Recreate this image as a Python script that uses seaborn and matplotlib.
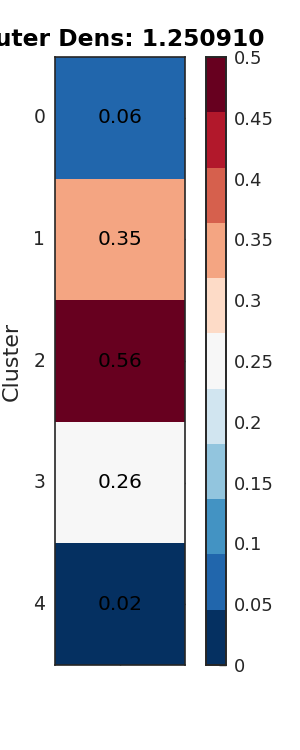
import matplotlib
matplotlib.use("Agg")
import matplotlib.pyplot as plt
import seaborn as sns
import numpy as np
import pandas as pd

clusters = [0, 1, 2, 3, 4]
densities = [0.06, 0.35, 0.56, 0.26, 0.02]
title = "Outer Dens: 1.250910"
cbar_ticks = [0, 0.05, 0.1, 0.15, 0.2, 0.25, 0.3, 0.35, 0.4, 0.45, 0.5]
cbar_labels = ["0", "0.05", "0.1", "0.15", "0.2", "0.25", "0.3", "0.35", "0.4", "0.45", "0.5"]

sns.set_style("ticks", {"xtick.direction": "in", "ytick.direction": "in"})
plt.rcParams["font.family"] = ["DejaVu Sans"]

df = pd.DataFrame({"dens": densities}, index=clusters)

fig = plt.figure(figsize=(3, 7.5), dpi=100)
ax = fig.add_axes([0.183, 0.1133, 0.434, 0.8107])
cax = fig.add_axes([0.688, 0.1133, 0.064, 0.8107])

cmap = plt.get_cmap("RdBu_r", 11)
sns.heatmap(df, ax=ax, cbar_ax=cax, cmap=cmap, vmin=0, vmax=0.5,
            annot=True, fmt=".2f", annot_kws={"color": "black", "fontsize": 14.5},
            xticklabels=False, yticklabels=clusters)

for s in ax.spines.values():
    s.set_visible(True)
    s.set_color("#262626")
    s.set_linewidth(1.2)
ax.set_xticks([0.5])
ax.tick_params(axis="x", which="both", top=True, bottom=True, direction="in",
               length=5, width=1, color="#262626", labelbottom=False)
ax.tick_params(axis="y", which="both", left=True, right=True, direction="in",
               length=5, width=1, color="#262626", labelsize=13.5, rotation=0, pad=7)
ax.set_ylabel("Cluster", fontsize=16, labelpad=8)
ax.set_title(title, fontsize=16.8, fontweight="bold", color="black", pad=8)

cax.set_yticks(cbar_ticks)
cax.set_yticklabels(cbar_labels)
cax.tick_params(direction="in", length=5, width=1, color="#262626", labelsize=13, pad=6)
for s in cax.spines.values():
    s.set_visible(True)
    s.set_color("#262626")
    s.set_linewidth(1.2)

fig.savefig("out.png", dpi=100)
